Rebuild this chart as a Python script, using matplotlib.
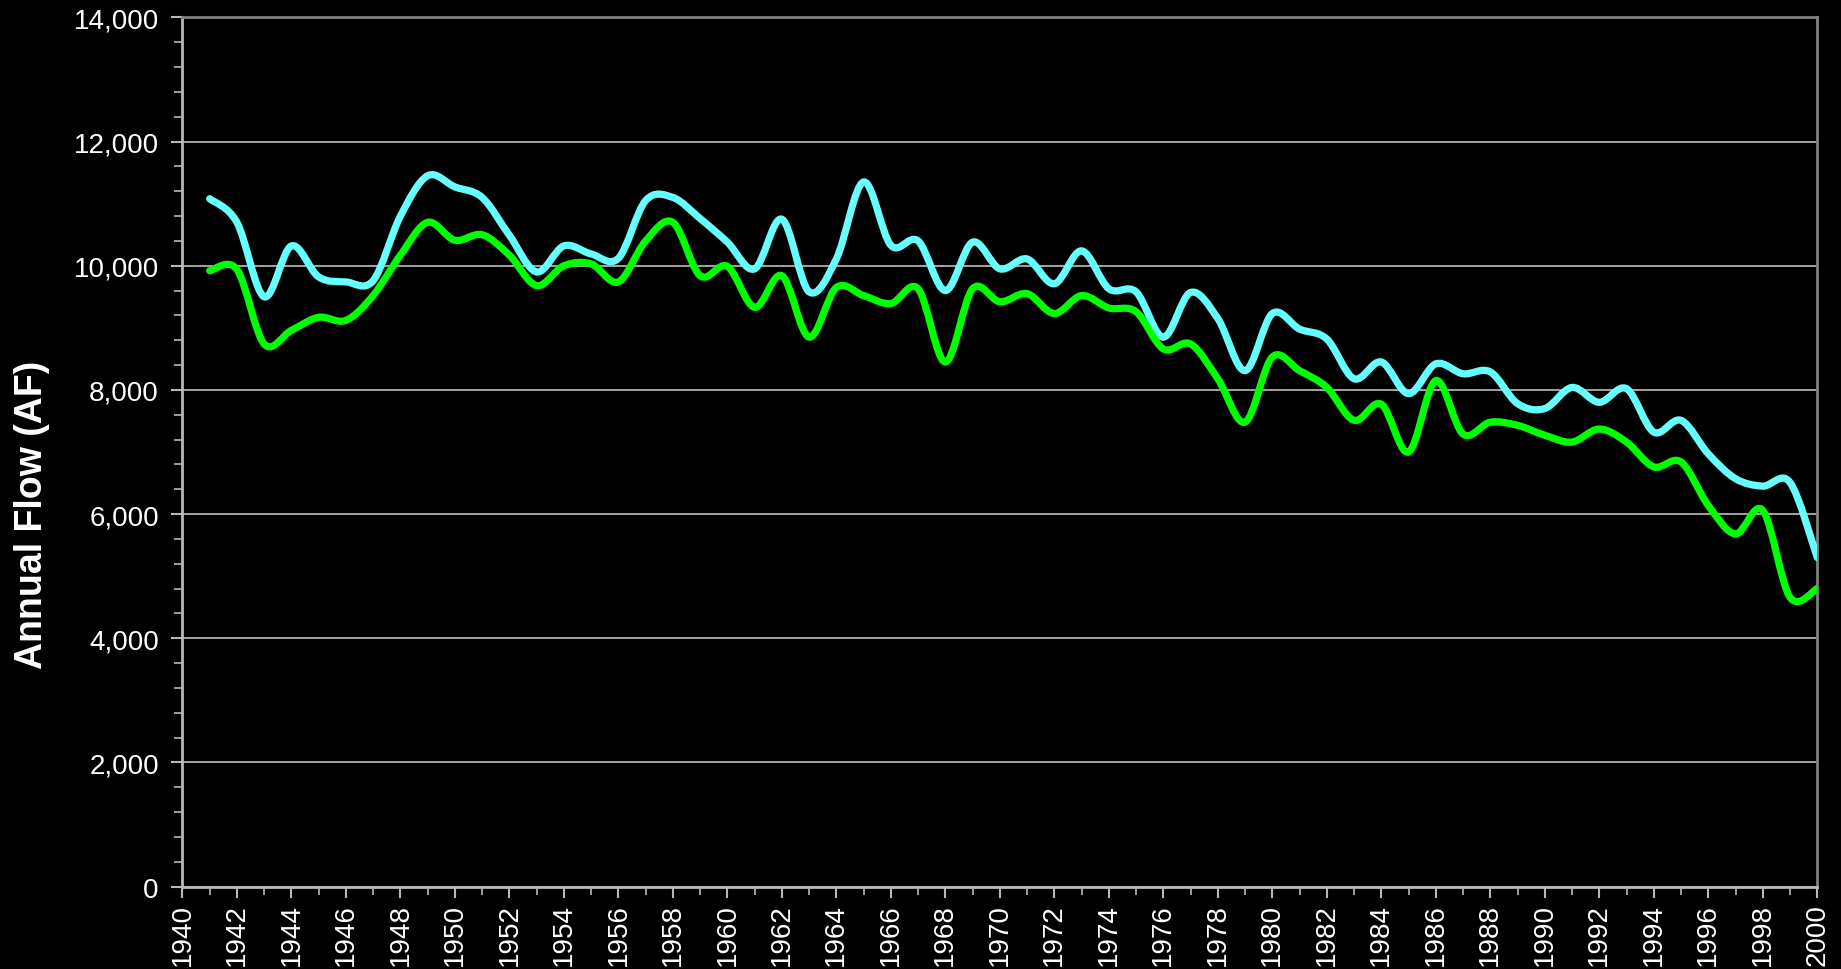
import numpy as np
import matplotlib
matplotlib.use("Agg")
import matplotlib.pyplot as plt
from matplotlib.path import Path
from matplotlib.patches import PathPatch
from matplotlib.ticker import MultipleLocator, FuncFormatter

years = list(range(1941, 2001))

flow_upper = [11080, 10700, 9500, 10320, 9820, 9740, 9760, 10800, 11450, 11270,
              11100, 10490, 9900, 10320, 10190, 10120, 11050, 11100, 10760, 10380,
              9950, 10750, 9580, 10110, 11350, 10330, 10400, 9600, 10380, 9950,
              10110, 9710, 10240, 9630, 9580, 8850, 9570, 9150, 8310, 9230,
              8980, 8820, 8180, 8450, 7940, 8420, 8260, 8290, 7780, 7700,
              8040, 7800, 8020, 7320, 7510, 6970, 6570, 6450, 6510, 5300]

flow_lower = [9920, 9940, 8740, 8960, 9170, 9120, 9520, 10170, 10700, 10410,
              10500, 10170, 9680, 10000, 10030, 9740, 10400, 10700, 9840, 9990,
              9330, 9840, 8850, 9650, 9520, 9390, 9630, 8450, 9630, 9420,
              9550, 9230, 9520, 9320, 9260, 8660, 8740, 8180, 7480, 8530,
              8310, 8040, 7510, 7770, 7000, 8150, 7290, 7480, 7430, 7270,
              7160, 7370, 7160, 6760, 6840, 6140, 5680, 6060, 4660, 4800]

upper_color = "#66FFFF"
lower_color = "#00FF00"


def smooth_path(x, y, tension=1.0 / 6.0):
    x = np.asarray(x, float)
    y = np.asarray(y, float)
    n = len(x)
    verts = [(x[0], y[0])]
    codes = [Path.MOVETO]
    for i in range(n - 1):
        p0 = np.array([x[max(i - 1, 0)], y[max(i - 1, 0)]])
        p1 = np.array([x[i], y[i]])
        p2 = np.array([x[i + 1], y[i + 1]])
        p3 = np.array([x[min(i + 2, n - 1)], y[min(i + 2, n - 1)]])
        c1 = p1 + (p2 - p0) * tension
        c2 = p2 - (p3 - p1) * tension
        verts += [tuple(c1), tuple(c2), tuple(p2)]
        codes += [Path.CURVE4] * 3
    return Path(verts, codes)


plt.rcParams['font.family'] = ['Liberation Sans', 'DejaVu Sans']

fig = plt.figure(figsize=(18.41, 9.70), dpi=100, facecolor='black')
ax = fig.add_axes([0.0991, 0.0850, 0.8880, 0.8960])
ax.set_facecolor('black')

for vals, col in [(flow_upper, upper_color), (flow_lower, lower_color)]:
    patch = PathPatch(smooth_path(years, vals), fill=False, edgecolor=col,
                      lw=5.2, capstyle='round', joinstyle='round', zorder=3)
    ax.add_patch(patch)

ax.set_xlim(1940, 2000)
ax.set_ylim(0, 14000)

ax.yaxis.set_major_locator(MultipleLocator(2000))
ax.yaxis.set_minor_locator(MultipleLocator(400))
ax.yaxis.set_major_formatter(FuncFormatter(lambda v, p: f"{int(v):,}"))
ax.xaxis.set_major_locator(MultipleLocator(2))
ax.xaxis.set_minor_locator(MultipleLocator(1))

ax.grid(axis='y', which='major', color='#d0d0d0', lw=1.1, zorder=1)

for side in ['top', 'right']:
    ax.spines[side].set_color('#808080')
    ax.spines[side].set_linewidth(2)
for side in ['left', 'bottom']:
    ax.spines[side].set_color('#b8b8b8')
    ax.spines[side].set_linewidth(2)

ax.tick_params(axis='both', which='both', direction='out', colors='#b8b8b8',
               labelcolor='white', labelsize=20)
ax.tick_params(axis='both', which='major', length=8, width=1.5)
ax.tick_params(axis='both', which='minor', length=6, width=1.2)
ax.tick_params(axis='x', which='major', labelrotation=90, pad=4)
ax.tick_params(axis='y', which='major', pad=9)

ax.set_ylabel("Annual Flow (AF)", color='white', fontsize=27, fontweight='bold')
ax.yaxis.set_label_coords(-0.081, 0.429)

fig.savefig("out.png", dpi=100, facecolor='black')
